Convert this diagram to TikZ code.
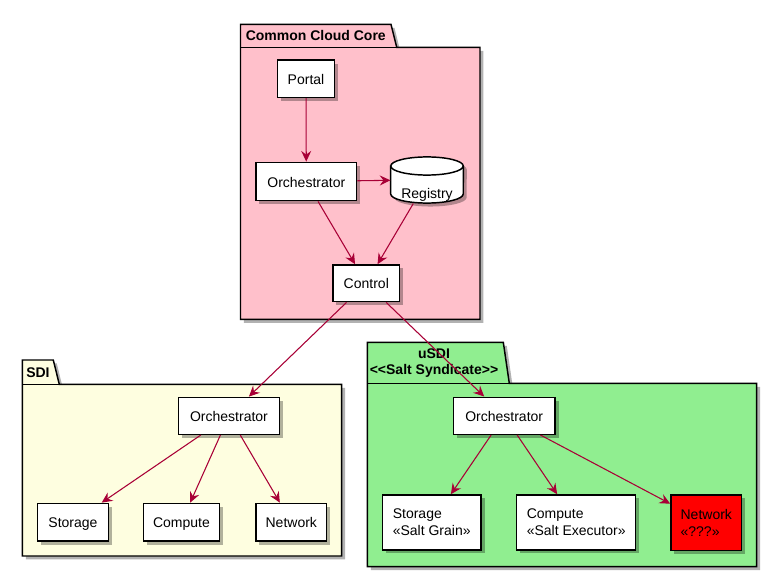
\documentclass[tikz,border=0pt]{standalone}
\usepackage{fontspec}
\setmainfont{Liberation Sans}
\usetikzlibrary{shadows,arrows.meta,calc}
\definecolor{arrowred}{HTML}{A80036}
\definecolor{pkgpink}{HTML}{FFC0CB}
\definecolor{pkgyellow}{HTML}{FEFEE0}
\definecolor{pkggreen}{HTML}{90EE90}
\tikzset{
  shad/.style={drop shadow={shadow xshift=2.6pt,shadow yshift=-2.6pt,fill=black,opacity=0.3}},
  box/.style={draw=black,line width=1.1pt,fill=white,shad,font=\fontsize{10.5pt}{13pt}\selectfont,inner sep=0pt},
  oneline/.style={text height=8.5pt,text depth=0pt},
  sz/.style 2 args={minimum width=#1*0.75pt,minimum height=#2*0.75pt},
  pkg/.style={draw=black,line width=1.1pt,shad},
  pkgtitle/.style={font=\bfseries\fontsize{10.5pt}{12pt}\selectfont,inner sep=0pt},
  conn/.style={draw=arrowred,line width=0.8pt,-{Stealth[length=8pt,width=7.5pt,inset=2.8pt]}}
}
\begin{document}
\begin{tikzpicture}[x=0.75pt,y=-0.75pt]
\useasboundingbox (0,0) rectangle (778,577);

% ---- packages ----
\path[pkg,fill=pkgpink] (240.5,47.3) -- (240.5,24.3) -- (391,24.3) -- (396.7,47.3) -- (480,47.3) -- (480,319.3) -- (240.5,319.3) -- cycle;
\draw[line width=1.1pt] (240.5,47.3) -- (396.7,47.3);
\node[pkgtitle,anchor=west] (ccct) at (245.5,36) {Common Cloud Core};

\path[pkg,fill=pkgyellow] (22.3,384.3) -- (22.3,360) -- (53.3,360) -- (59.3,384.3) -- (341.7,384.3) -- (341.7,556) -- (22.3,556) -- cycle;
\draw[line width=1.1pt] (22.3,384.3) -- (59.3,384.3);
\node[pkgtitle,anchor=west] (sdit) at (26,372.5) {SDI};

\path[pkg,fill=pkggreen] (367.3,383.3) -- (367.3,342.3) -- (503.3,342.3) -- (509.3,383.3) -- (756.7,383.3) -- (756.7,566.7) -- (367.3,566.7) -- cycle;
\draw[line width=1.1pt] (367.3,383.3) -- (509.3,383.3);
\node[pkgtitle,align=center] (usdit) at (434,363) {uSDI\\<\kern0pt<Salt Syndicate>\kern0pt>};

% ---- Common Cloud Core ----
\node[box,oneline,sz={57.4}{37.3}] (portal) at (306,78.7) {Portal};
\node[box,oneline,sz={100.7}{38.4}] (orch) at (306.3,181.5) {Orchestrator};
\path[draw=black,line width=1.1pt,fill=white,shad]
  (390.7,166) -- (390.7,194) arc[start angle=180,end angle=360,x radius=27.2pt,y radius=6.8pt]
  -- (463.3,166) arc[start angle=0,end angle=180,x radius=27.2pt,y radius=6.8pt] -- cycle;
\draw[line width=1.1pt] (390.7,166) arc[start angle=180,end angle=360,x radius=27.2pt,y radius=6.8pt];
\node[inner sep=0pt,sz={72.6}{46}] (reg) at (427,180.3) {};
\node[font=\fontsize{10.5pt}{13pt}\selectfont,oneline,inner sep=0pt] (regtext) at (427,192.7) {Registry};
\node[box,oneline,sz={66.7}{36.7}] (ctrl) at (366.3,283.3) {Control};

% ---- SDI ----
\node[box,oneline,sz={100.6}{37}] (sorch) at (229,415.8) {Orchestrator};
\node[box,oneline,sz={70.6}{37.7}] (sstor) at (73,522.2) {Storage};
\node[box,oneline,sz={76.4}{37.7}] (scomp) at (181.5,522.2) {Compute};
\node[box,oneline,sz={70.7}{37.7}] (snet) at (291.3,522.2) {Network};

% ---- uSDI ----
\node[box,sz={98.7}{55}, align=left] (ustor) at (431.7,522.5) {Storage\\«Salt Grain»};
\node[box,oneline,sz={101.7}{37}] (uorch) at (504.2,415.8) {Orchestrator};
\node[box,sz={119}{55}, align=left] (ucomp) at (576.2,522.5) {Compute\\«Salt Executor»};
\node[box,fill=red,sz={70.7}{55.7}, align=left] (unet) at (706.3,522.8) {Network\\«???»};

% ---- connectors ----
\draw[conn] (portal) -- (orch);
\draw[conn] (orch) -- (reg.west);
\draw[conn] (orch) -- (ctrl);
\draw[conn] (reg) -- (ctrl);
\draw[conn] (ctrl) -- (sorch);
\draw[conn] (ctrl) -- (uorch);
\draw[conn] (sorch) -- (sstor);
\draw[conn] (sorch) -- (scomp);
\draw[conn] (sorch) -- (snet);
\draw[conn] (uorch) -- (ustor);
\draw[conn] (uorch) -- (ucomp);
\draw[conn] (uorch) -- (unet);
\end{tikzpicture}
\end{document}
